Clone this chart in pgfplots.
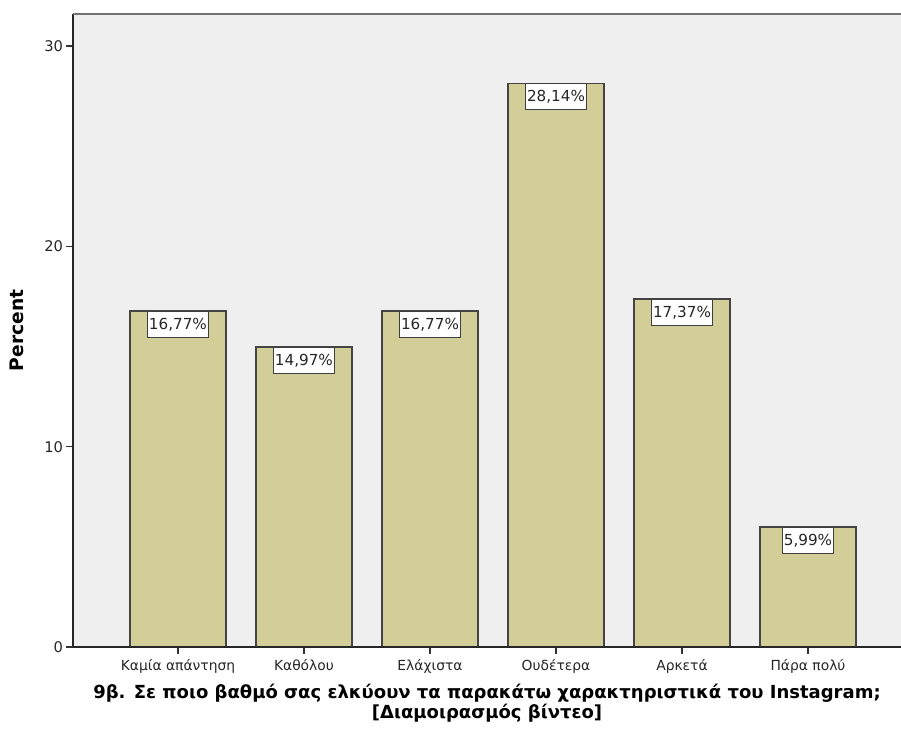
\documentclass[border=0pt]{standalone}
\usepackage{pgfplots}
\pgfplotsset{compat=1.18}
\usepackage{fontspec}
\setmainfont{DejaVu Sans}
\definecolor{barfill}{HTML}{D3CE97}
\definecolor{plotbg}{HTML}{EFEFEF}
\definecolor{edge}{HTML}{444444}
\begin{document}
\begin{tikzpicture}
\begin{axis}[
  name=ax,
  scale only axis,
  width=621pt, height=474.75pt,
  xmin=-0.833, xmax=5.738,
  ymin=0, ymax=31.6,
  axis background/.style={fill=plotbg},
  axis line style={draw=none},
  ybar, bar width=72pt,
  xtick={0,1,2,3,4,5},
  xticklabels={Καμία απάντηση, Καθόλου, Ελάχιστα, Ουδέτερα, Αρκετά, Πάρα πολύ},
  ytick={0,10,20,30},
  tick align=outside,
  xtick pos=bottom, ytick pos=left,
  major tick length=5pt,
  tick style={draw=black!80, line width=1pt},
  x tick label style={font=\fontsize{10.4}{11}\selectfont, text=black!85, yshift=-1pt},
  y tick label style={font=\fontsize{11}{12}\selectfont, text=black!85, xshift=1pt},
  /pgf/number format/assume math mode=true,
  ylabel={\textbf{Percent}},
  ylabel style={font=\fontsize{14}{16}\selectfont, at={([xshift=-42pt]axis description cs:0,0.5)}, anchor=center},
  xlabel={\textbf{9β. Σε ποιο βαθμό σας ελκύουν τα παρακάτω χαρακτηριστικά του Instagram;}\\\textbf{[Διαμοιρασμός βίντεο]}},
  xlabel style={font=\fontsize{13.5}{12}\selectfont, align=center, yshift=-1pt},
  nodes near coords={\pgfmathprintnumber[fixed, fixed zerofill, precision=2, use comma]{\pgfplotspointmeta}\%},
  every node near coord/.append style={anchor=north, yshift=0pt, fill=white, draw=black!75, line width=0.8pt,
    font=\fontsize{11.4}{12}\selectfont, inner xsep=1pt, inner ysep=0pt, minimum height=19.5pt, text=black!85,
    /pgf/number format/assume math mode=true},
  clip=false,
]
\addplot[fill=barfill, draw=edge, line width=1.1pt] coordinates {
  (0,16.77) (1,14.97) (2,16.77) (3,28.14) (4,17.37) (5,5.99)
};
\draw[black!85, line width=1pt] (rel axis cs:0,0) -- (rel axis cs:1,0);
\draw[black!85, line width=1pt] (rel axis cs:0,0) -- (rel axis cs:0,1);
\draw[black!55, line width=1.5pt] (rel axis cs:0,1) -- (rel axis cs:1,1);
\end{axis}
\pgfresetboundingbox
\path ([shift={(-54.75pt,-65.25pt)}]ax.south west) rectangle ([shift={(0pt,10.5pt)}]ax.north east);
\end{tikzpicture}
\end{document}
